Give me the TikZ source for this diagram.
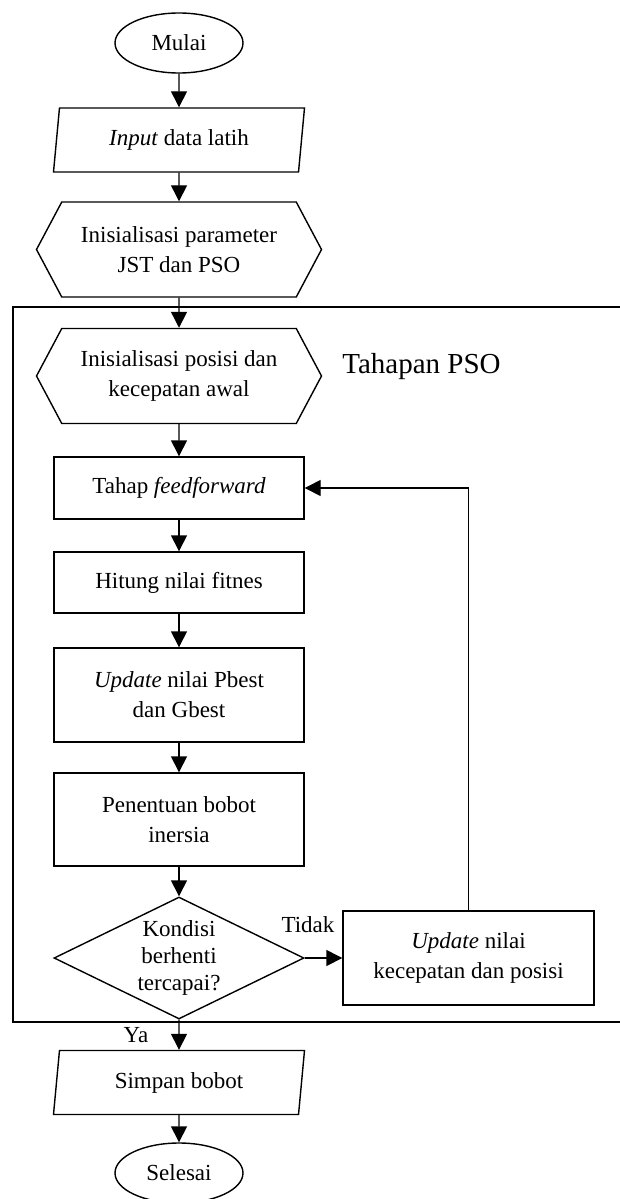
\documentclass[tikz,border=0pt]{standalone}
\usepackage{fontspec}
\setmainfont{Liberation Serif}
\usetikzlibrary{shapes.geometric,shapes.symbols,arrows.meta}

\begin{document}
\begin{tikzpicture}[x=0.5pt,y=-0.5pt,line width=0.7pt,
  font=\fontsize{11.5}{15}\selectfont,
  term/.style={ellipse, draw, minimum width=64pt, minimum height=30pt, inner sep=0pt},
  io/.style={trapezium, trapezium left angle=74, trapezium right angle=106, trapezium stretches body, draw, minimum width=125.5pt, minimum height=32pt, inner sep=0pt, align=center},
  prep/.style={signal, signal to=west and east, signal pointer angle=124, draw, minimum width=142.5pt, minimum height=47.5pt, inner sep=0pt, align=center},
  proses/.style={rectangle, draw, minimum width=125pt, align=center},
  cek/.style={diamond, draw, aspect=2, minimum width=125pt, minimum height=61pt, inner sep=0pt, align=center, font=\fontsize{11.5}{13.5}\selectfont},
  arr/.style={-{Triangle[width=8pt,length=8pt]}}]
\useasboundingbox (0,0) rectangle (620,1199);
% frame of the PSO stage
\draw (620,307) -- (13,307) -- (13,1022) -- (620,1022);
\node[anchor=west, font=\fontsize{14.5}{17}\selectfont] (judul) at (335,367) {Tahapan PSO};

\node[term] (mulai) at (179,43) {Mulai};
\node[io] (input) at (179,140) {\textit{Input} data latih};
\node[prep] (initpar) at (179,249.5) {Inisialisasi parameter\\JST dan PSO};
\node[prep] (initpos) at (179,376) {Inisialisasi posisi dan\\kecepatan awal};
\node[proses, minimum height=31pt] (ff) at (179,488) {Tahap \textit{feedforward}};
\node[proses, minimum height=30.5pt] (fit) at (179,582.5) {Hitung nilai fitnes};
\node[proses, minimum height=47pt] (pbest) at (179,695) {\textit{Update} nilai Pbest\\dan Gbest};
\node[proses, minimum height=46.5pt] (inersia) at (179,819.5) {Penentuan bobot\\inersia};
\node[cek] (kondisi) at (179,958) {Kondisi\\berhenti\\tercapai?};
\node[proses, minimum width=125.5pt, minimum height=47pt] (updv) at (468.5,958) {\textit{Update} nilai\\kecepatan dan posisi};
\node[io] (simpan) at (179,1082.5) {Simpan bobot};
\node[term] (selesai) at (179,1173) {Selesai};

\node (tidak) at (308,925) {Tidak};
\node (ya) at (136,1035) {Ya};

\path[arr] (mulai) edge (input);
\path[arr] (input) edge (initpar);
\path[arr] (initpar) edge (initpos);
\path[arr] (initpos) edge (ff);
\path[arr] (ff) edge (fit);
\path[arr] (fit) edge (pbest);
\path[arr] (pbest) edge (inersia);
\path[arr] (inersia) edge (kondisi);
\path[arr] (kondisi) edge (updv);
\path[arr] (kondisi) edge (simpan);
\path[arr] (simpan) edge (selesai);
\draw[arr] (updv) |- (ff);
\end{tikzpicture}
\end{document}
